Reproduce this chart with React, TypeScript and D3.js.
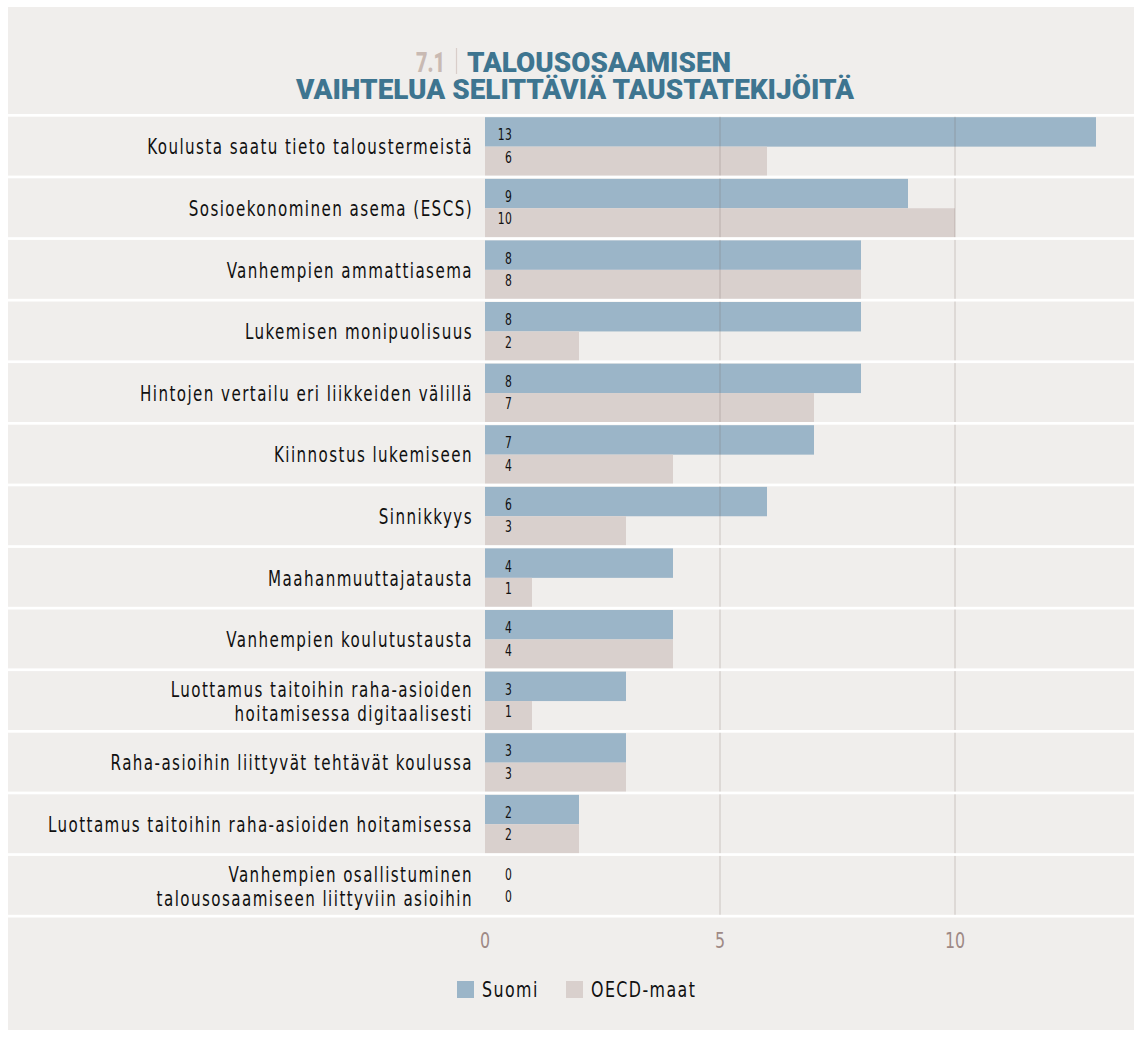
import { useEffect, useRef } from 'react';
import * as d3 from 'd3';

const categories = [
  ['Koulusta saatu tieto taloustermeistä'],
  ['Sosioekonominen asema (ESCS)'],
  ['Vanhempien ammattiasema'],
  ['Lukemisen monipuolisuus'],
  ['Hintojen vertailu eri liikkeiden välillä'],
  ['Kiinnostus lukemiseen'],
  ['Sinnikkyys'],
  ['Maahanmuuttajatausta'],
  ['Vanhempien koulutustausta'],
  ['Luottamus taitoihin raha-asioiden', 'hoitamisessa digitaalisesti'],
  ['Raha-asioihin liittyvät tehtävät koulussa'],
  ['Luottamus taitoihin raha-asioiden hoitamisessa'],
  ['Vanhempien osallistuminen', 'talousosaamiseen liittyviin asioihin'],
];
const suomi = [13, 9, 8, 8, 8, 7, 6, 4, 4, 3, 3, 2, 0];
const oecd = [6, 10, 8, 2, 7, 4, 3, 1, 4, 1, 3, 2, 0];
const xTicks = [0, 5, 10];
const seriesNames = ['Suomi', 'OECD-maat'];
const seriesColors = ['#9bb5c8', '#d9d0cd'];

const W = 1134;
const H = 1037;
const FONT = "'DejaVu Sans Condensed', 'DejaVu Sans', sans-serif";
const SQUEEZE = 0.8;

// condensed text: the narrow face of the original is not installed, so squeeze it
function narrow(g, x, y, str, size, anchor, spacing, fill) {
  return g.append('text')
    .attr('transform', `translate(${x},${y}) scale(${SQUEEZE},1)`)
    .attr('text-anchor', anchor)
    .attr('dominant-baseline', 'central')
    .attr('font-family', FONT)
    .attr('font-size', size)
    .attr('letter-spacing', spacing)
    .attr('fill', fill)
    .text(str);
}

export default function App() {
  const svgRef = useRef(null);

  useEffect(() => {
    document.body.style.margin = '0';
    const svg = d3.select(svgRef.current);
    svg.selectAll('*').remove();

    // panel
    svg.append('rect').attr('x', 0).attr('y', 0).attr('width', W).attr('height', H).attr('fill', '#ffffff');
    svg.append('rect').attr('x', 8).attr('y', 7).attr('width', W - 8).attr('height', 1023).attr('fill', '#f0eeec');

    // title
    const title = svg.append('g').attr('font-family', "Roboto, 'Open Sans', sans-serif").attr('font-weight', 900);
    title.append('text').attr('x', 416).attr('y', 72).attr('font-size', 27).attr('fill', '#c9bab3')
      .attr('textLength', 29).attr('lengthAdjust', 'spacingAndGlyphs').text('7.1');
    title.append('line').attr('x1', 456.5).attr('x2', 456.5).attr('y1', 48).attr('y2', 74)
      .attr('stroke', '#d9ceca').attr('stroke-width', 1.2);
    title.append('text').attr('x', 467).attr('y', 72).attr('font-size', 27).attr('fill', '#3e7590')
      .attr('textLength', 264).attr('lengthAdjust', 'spacingAndGlyphs').text('TALOUSOSAAMISEN');
    title.append('text').attr('x', 296).attr('y', 99).attr('font-size', 27).attr('fill', '#3e7590')
      .attr('textLength', 558).attr('lengthAdjust', 'spacingAndGlyphs').text('VAIHTELUA SELITTÄVIÄ TAUSTATEKIJÖITÄ');

    const x = d3.scaleLinear().domain([0, 10]).range([485, 955]);
    const y = d3.scaleBand().domain(categories.map((d, i) => String(i))).range([114.5, 915.3]);
    const sep = 2.7;
    const half = (y.bandwidth() - sep) / 2;

    const rows = svg.append('g').selectAll('g').data(categories).enter().append('g')
      .attr('transform', (d, i) => `translate(0,${y(String(i))})`);

    // bars
    rows.append('rect').attr('x', x(0)).attr('y', sep)
      .attr('width', (d, i) => x(suomi[i]) - x(0)).attr('height', half).attr('fill', seriesColors[0]);
    rows.append('rect').attr('x', x(0)).attr('y', sep + half)
      .attr('width', (d, i) => x(oecd[i]) - x(0)).attr('height', half).attr('fill', seriesColors[1]);

    // value labels and category labels
    rows.each(function (d, i) {
      const g = d3.select(this);
      narrow(g, 512, sep + half / 2 + 3, suomi[i], 15, 'end', 0.3, '#111');
      narrow(g, 512, sep + half * 1.5 - 4, oecd[i], 15, 'end', 0.3, '#111');
      const mid = sep / 2 + y.bandwidth() / 2;
      d.forEach((line, k) => {
        narrow(g, 473, mid + (k - (d.length - 1) / 2) * 24, line, 21, 'end', 1.8, '#111');
      });
    });

    // gridlines
    svg.append('g').selectAll('line').data(xTicks.filter(t => t > 0)).enter().append('line')
      .attr('x1', d => x(d)).attr('x2', d => x(d)).attr('y1', 116).attr('y2', 917)
      .attr('stroke', 'rgba(110,95,90,0.18)').attr('stroke-width', 1.6);

    // row separators
    const bounds = d3.range(categories.length + 1).map(i => 114.5 + i * y.step());
    svg.append('g').selectAll('rect').data(bounds).enter().append('rect')
      .attr('x', 8).attr('width', W - 8).attr('y', d => d - 0.5).attr('height', sep).attr('fill', '#ffffff');

    // x tick labels
    const axisG = svg.append('g');
    xTicks.forEach(t => narrow(axisG, x(t), 941, t, 22, 'middle', 0, '#9e8985'));

    // legend
    const legendX = [457, 566];
    const lg = svg.append('g');
    seriesNames.forEach((name, i) => {
      lg.append('rect').attr('x', legendX[i]).attr('y', 981).attr('width', 17).attr('height', 17)
        .attr('fill', seriesColors[i]);
      narrow(lg, legendX[i] + 25, 990, name, 22, 'start', 1.8, '#111');
    });
  }, []);

  return <svg ref={svgRef} width={W} height={H} style={{ display: 'block' }}></svg>;
}
